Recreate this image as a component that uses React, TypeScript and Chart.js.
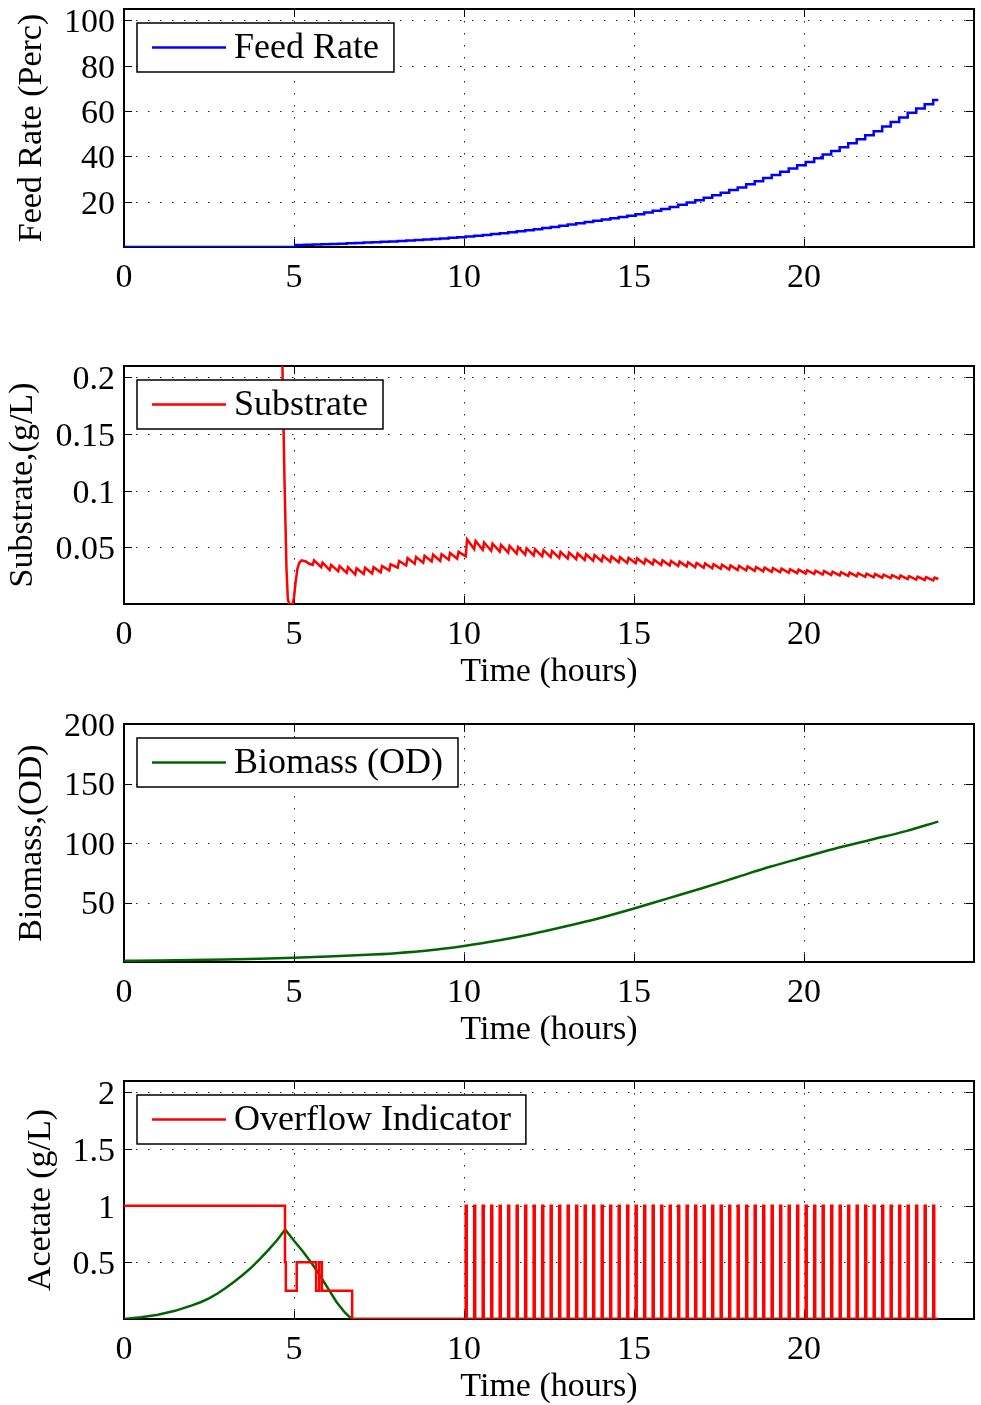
import React, { useEffect, useRef } from 'react';
import { Chart, registerables } from 'chart.js';

Chart.register(...registerables);

// ---------------- data ----------------
const T_END = 23.95;
const X_TICKS = [0, 5, 10, 15, 20];
const X_MAX = 25;

// feeding / dosing instants (hours)
const doseTimes = [
  5.05, 5.30, 5.55, 5.80, 6.05, 6.30, 6.55, 6.80, 7.05, 7.30, 7.55, 7.80, 8.05, 8.30, 8.55, 8.80,
  9.05, 9.30, 9.55, 9.80, 10.05, 10.30, 10.55, 10.80, 11.05, 11.30, 11.55, 11.80, 12.05, 12.30,
  12.55, 12.80, 13.05, 13.30, 13.55, 13.80, 14.05, 14.30, 14.55, 14.80, 15.05, 15.30, 15.55, 15.80,
  16.05, 16.30, 16.55, 16.80, 17.05, 17.30, 17.55, 17.80, 18.05, 18.30, 18.55, 18.80, 19.05, 19.30,
  19.55, 19.80, 20.05, 20.30, 20.55, 20.80, 21.05, 21.30, 21.55, 21.80, 22.05, 22.30, 22.55, 22.80,
  23.05, 23.30, 23.55, 23.80,
];

// Feed rate level after each dose (%)
const feedLevels = [
  0.83, 0.95, 1.08, 1.20, 1.33, 1.48, 1.63, 1.78, 1.94, 2.11, 2.29, 2.46, 2.65, 2.87, 3.10, 3.32,
  3.55, 3.80, 4.05, 4.30, 4.58, 4.95, 5.33, 5.70, 6.09, 6.51, 6.94, 7.36, 7.81, 8.33,
  8.86, 9.38, 9.91, 10.46, 11.01, 11.56, 12.12, 12.69, 13.27, 13.84, 14.46, 15.23, 16.01, 16.78,
  17.61, 18.63, 19.66, 20.68, 21.73, 22.85, 23.98, 25.10, 26.28, 27.65, 29.03, 30.40, 31.79, 33.21,
  34.64, 36.06, 37.53, 39.15, 40.78, 42.40, 44.05, 45.80, 47.55, 49.30, 51.11, 53.13, 55.16, 57.18,
  59.18, 61.05, 62.93, 64.80,
];
const FEED_Y_TICKS = [20, 40, 60, 80, 100];
const FEED_Y_MAX = 105;

// Substrate: start-up transient, then saw-teeth from dose #3 onward
const subStartT = [0, 4.50, 4.60, 4.66, 4.72, 4.78, 4.82, 4.86, 4.96, 5.00, 5.05, 5.10, 5.15, 5.22, 5.35, 5.45];
const subStartV = [2.5, 1.2, 0.5, 0.21, 0.11, 0.03, 0.004, 0, 0, 0.006, 0.02, 0.031, 0.036, 0.0385, 0.0375, 0.0355];
const subTrough = [
  0.0345, 0.0325, 0.0300, 0.0290, 0.0275, 0.0260, 0.0265, 0.0270, 0.0280, 0.0295, 0.0320, 0.0340,
  0.0355, 0.0365, 0.0375, 0.0380, 0.0390, 0.0400, 0.0420, 0.0485, 0.0478, 0.0470, 0.0462, 0.0453,
  0.0444, 0.0436, 0.0428, 0.0421, 0.0414, 0.0407, 0.0401, 0.0395, 0.0389, 0.0383, 0.0378, 0.0373,
  0.0368, 0.0363, 0.0360, 0.0355, 0.0350, 0.0345, 0.0340, 0.0335, 0.0330, 0.0325, 0.0320, 0.0315,
  0.0310, 0.0305, 0.0300, 0.0296, 0.0292, 0.0288, 0.0284, 0.0280, 0.0276, 0.0272, 0.0268, 0.0264,
  0.0260, 0.0256, 0.0252, 0.0248, 0.0244, 0.0240, 0.0236, 0.0232, 0.0228, 0.0224, 0.0220, 0.0216,
  0.0212, 0.0208,
];
const subPeak = [
  0.0385, 0.0365, 0.0345, 0.0335, 0.0325, 0.0315, 0.0320, 0.0325, 0.0335, 0.0350, 0.0380, 0.0405,
  0.0415, 0.0425, 0.0435, 0.0440, 0.0450, 0.0460, 0.0570, 0.0556, 0.0543, 0.0532, 0.0522, 0.0512,
  0.0502, 0.0492, 0.0483, 0.0475, 0.0467, 0.0460, 0.0453, 0.0446, 0.0439, 0.0432, 0.0425, 0.0419,
  0.0413, 0.0407, 0.0402, 0.0396, 0.0391, 0.0385, 0.0380, 0.0374, 0.0369, 0.0363, 0.0358, 0.0352,
  0.0347, 0.0341, 0.0336, 0.0331, 0.0326, 0.0321, 0.0316, 0.0312, 0.0307, 0.0303, 0.0298, 0.0294,
  0.0290, 0.0285, 0.0281, 0.0277, 0.0272, 0.0268, 0.0264, 0.0259, 0.0255, 0.0251, 0.0246, 0.0242,
  0.0237, 0.0233,
];
const SUB_SPIKE_RISE = 0.04;
const SUB_END = 0.0221;
const SUB_Y_TICKS = [0.05, 0.1, 0.15, 0.2];
const SUB_Y_MAX = 0.21;

// Biomass (OD)
const bioT = [0, 1, 2, 3, 4, 5, 6, 7, 8, 9, 10, 11, 12, 13, 14, 15, 16, 17, 18, 19, 20, 21, 22, 23, 23.95];
const bioV = [1.0, 1.3, 1.7, 2.2, 2.8, 3.6, 4.6, 5.8, 7.4, 9.8, 13.5, 18, 23.5, 30, 37, 45, 53.5, 62, 71, 80, 88, 96, 103, 110, 118];
const BIO_Y_TICKS = [50, 100, 150, 200];
const BIO_Y_MAX = 200;

// Acetate (g/L)
const aceT = [0, 0.5, 1, 1.5, 2, 2.25, 2.5, 2.75, 3, 3.25, 3.5, 3.75, 4, 4.25, 4.5, 4.74, 5.0, 5.25, 5.5, 5.75, 6.0, 6.25, 6.5, 6.7, 23.95];
const aceV = [0, 0.016, 0.038, 0.072, 0.12, 0.148, 0.182, 0.225, 0.275, 0.33, 0.39, 0.455, 0.53, 0.61, 0.695, 0.79, 0.69, 0.60, 0.50, 0.39, 0.27, 0.15, 0.055, 0, 0];

// Overflow indicator: initial steps, then pulses at doses from 10.05 h
const ovStepT = [0, 4.735, 4.76, 5.08, 5.65, 5.74, 5.82, 6.71];
const ovStepV = [1, 0.5, 0.25, 0.5, 0.25, 0.5, 0.25, 0];
const ovPulseTimes = doseTimes.slice(20);
const OV_PULSE_WIDTH = 0.03;
const ACE_Y_TICKS = [0.5, 1, 1.5, 2];
const ACE_Y_MAX = 2.1;

// ---------------- series ----------------
const feedData = [{ x: 0, y: 0 }, ...doseTimes.map((t, i) => ({ x: t, y: feedLevels[i] })), { x: T_END, y: feedLevels[feedLevels.length - 1] }];

const subData: { x: number; y: number }[] = subStartT.map((t, i) => ({ x: t, y: subStartV[i] }));
doseTimes.slice(2).forEach((t, i) => {
  subData.push({ x: t, y: subTrough[i] });
  subData.push({ x: t + SUB_SPIKE_RISE, y: subPeak[i] });
});
subData.push({ x: T_END, y: SUB_END });

const bioData = bioT.map((t, i) => ({ x: t, y: bioV[i] }));
const aceData = aceT.map((t, i) => ({ x: t, y: aceV[i] }));

const ovData: { x: number; y: number }[] = ovStepT.map((t, i) => ({ x: t, y: ovStepV[i] }));
ovPulseTimes.forEach((t) => {
  ovData.push({ x: t, y: 1 });
  ovData.push({ x: t + OV_PULSE_WIDTH, y: 0 });
});
ovData.push({ x: T_END, y: 0 });

// ---------------- drawing ----------------
const FONT = '"Liberation Serif", "Times New Roman", serif';
const W = 981;
const PAD_TOP = 20;
const PLOT_H = 238;
const XAXIS_H = 86;
const CANVAS_H = PAD_TOP + PLOT_H + XAXIS_H;
const PLOT_LEFT = 124;
const PLOT_RIGHT = 974;

const matlabAxes = {
  id: 'matlabAxes',
  beforeDatasetsDraw(chart: any) {
    const { ctx, chartArea: a } = chart;
    const xs = chart.scales.x;
    const ys = chart.scales.y;
    ctx.save();
    ctx.strokeStyle = '#222';
    ctx.lineWidth = 1;
    ctx.setLineDash([1.5, 10.5]);
    xs.ticks.forEach((t: any) => {
      const px = Math.round(xs.getPixelForValue(t.value)) + 0.5;
      if (px < a.left + 2 || px > a.right - 2) return;
      ctx.beginPath();
      ctx.moveTo(px, a.top);
      ctx.lineTo(px, a.bottom);
      ctx.stroke();
    });
    ys.ticks.forEach((t: any) => {
      const py = Math.round(ys.getPixelForValue(t.value)) + 0.5;
      if (py < a.top + 2 || py > a.bottom - 2) return;
      ctx.beginPath();
      ctx.moveTo(a.left, py);
      ctx.lineTo(a.right, py);
      ctx.stroke();
    });
    ctx.setLineDash([]);
    ctx.strokeStyle = '#000';
    ctx.lineWidth = 1;
    const TL = 8;
    xs.ticks.forEach((t: any) => {
      const px = Math.round(xs.getPixelForValue(t.value)) + 0.5;
      ctx.beginPath();
      ctx.moveTo(px, a.bottom);
      ctx.lineTo(px, a.bottom - TL);
      ctx.moveTo(px, a.top);
      ctx.lineTo(px, a.top + TL);
      ctx.stroke();
    });
    ys.ticks.forEach((t: any) => {
      const py = Math.round(ys.getPixelForValue(t.value)) + 0.5;
      ctx.beginPath();
      ctx.moveTo(a.left, py);
      ctx.lineTo(a.left + TL, py);
      ctx.moveTo(a.right, py);
      ctx.lineTo(a.right - TL, py);
      ctx.stroke();
    });
    ctx.lineWidth = 2;
    ctx.strokeRect(a.left, a.top, a.right - a.left, a.bottom - a.top);
    ctx.restore();
  },
  afterDatasetsDraw(chart: any, _args: any, opts: any) {
    const idx: number[] = (opts && opts.legend) || [];
    if (!idx.length) return;
    const { ctx, chartArea: a } = chart;
    const items = idx.map((i) => chart.data.datasets[i]);
    ctx.save();
    ctx.font = `36px ${FONT}`;
    const textW = Math.max(...items.map((d: any) => ctx.measureText(d.label).width));
    const bx = a.left + 13;
    const by = a.top + 14;
    const bh = 49;
    const lx0 = bx + 15;
    const lx1 = bx + 89;
    const tx = bx + 97;
    const bw = tx - bx + textW + 15;
    ctx.fillStyle = '#fff';
    ctx.fillRect(bx, by, bw, bh);
    ctx.strokeStyle = '#000';
    ctx.lineWidth = 1.5;
    ctx.strokeRect(bx, by, bw, bh);
    items.forEach((d: any) => {
      const cy = by + bh / 2;
      ctx.strokeStyle = d.borderColor;
      ctx.lineWidth = 2.5;
      ctx.beginPath();
      ctx.moveTo(lx0, cy);
      ctx.lineTo(lx1, cy);
      ctx.stroke();
      ctx.fillStyle = '#000';
      ctx.textAlign = 'left';
      ctx.textBaseline = 'middle';
      ctx.fillText(d.label, tx, cy + 1);
    });
    ctx.restore();
  },
};

type PanelSpec = {
  top: number;
  padLeft: number;
  yMax: number;
  yTicks: number[];
  yTitle: string;
  xTitle: boolean;
  datasets: any[];
  legend: number[];
};

function Panel({ spec }: { spec: PanelSpec }) {
  const ref = useRef<HTMLCanvasElement | null>(null);
  useEffect(() => {
    if (!ref.current) return;
    const tickFont = { family: FONT, size: 34 };
    const chart = new Chart(ref.current, {
      type: 'line',
      data: { datasets: spec.datasets },
      plugins: [matlabAxes as any],
      options: {
        animation: false,
        responsive: false,
        maintainAspectRatio: false,
        devicePixelRatio: 1,
        events: [],
        layout: { padding: { left: spec.padLeft, right: W - PLOT_RIGHT, top: PAD_TOP, bottom: 0 } },
        elements: { point: { radius: 0 }, line: { tension: 0 } },
        plugins: {
          legend: { display: false },
          tooltip: { enabled: false },
          matlabAxes: { legend: spec.legend },
        } as any,
        scales: {
          x: {
            type: 'linear',
            min: 0,
            max: X_MAX,
            afterBuildTicks: (s: any) => {
              s.ticks = X_TICKS.map((v) => ({ value: v }));
            },
            afterFit: (s: any) => {
              s.height = XAXIS_H;
              s.paddingLeft = 0;
              s.paddingRight = 0;
            },
            grid: { display: false, drawTicks: false },
            border: { display: false },
            ticks: {
              autoSkip: false,
              maxRotation: 0,
              padding: 11,
              color: '#000',
              font: tickFont,
              callback: (v: any) => String(v),
            },
            title: {
              display: spec.xTitle,
              text: 'Time (hours)',
              color: '#000',
              font: tickFont,
              padding: { top: 0, bottom: -2 },
            },
          },
          y: {
            type: 'linear',
            min: 0,
            max: spec.yMax,
            afterBuildTicks: (s: any) => {
              s.ticks = spec.yTicks.map((v) => ({ value: v }));
            },
            afterFit: (s: any) => {
              s.width = PLOT_LEFT - spec.padLeft;
              s.paddingTop = 0;
              s.paddingBottom = 0;
            },
            grid: { display: false, drawTicks: false },
            border: { display: false },
            ticks: {
              autoSkip: false,
              padding: 9,
              labelOffset: 3,
              color: '#000',
              font: tickFont,
              callback: (v: any) => String(v),
            },
            title: {
              display: true,
              text: spec.yTitle,
              color: '#000',
              font: tickFont,
              padding: 0,
            },
          },
        },
      } as any,
    });
    return () => chart.destroy();
  }, []);
  return (
    <canvas
      ref={ref}
      width={W}
      height={CANVAS_H}
      style={{ position: 'absolute', left: 0, top: spec.top - PAD_TOP, width: W, height: CANVAS_H }}
    />
  );
}

const lineStyle = { pointRadius: 0, borderWidth: 2.5, fill: false };

const panels: PanelSpec[] = [
  {
    top: 9,
    padLeft: 12,
    yMax: FEED_Y_MAX,
    yTicks: FEED_Y_TICKS,
    yTitle: 'Feed Rate (Perc)',
    xTitle: false,
    legend: [0],
    datasets: [{ ...lineStyle, label: 'Feed Rate', data: feedData, borderColor: '#0000ff', stepped: 'before' }],
  },
  {
    top: 366,
    padLeft: 3,
    yMax: SUB_Y_MAX,
    yTicks: SUB_Y_TICKS,
    yTitle: 'Substrate,(g/L)',
    xTitle: true,
    legend: [0],
    datasets: [{ ...lineStyle, label: 'Substrate', data: subData, borderColor: '#ff0000' }],
  },
  {
    top: 724,
    padLeft: 12,
    yMax: BIO_Y_MAX,
    yTicks: BIO_Y_TICKS,
    yTitle: 'Biomass,(OD)',
    xTitle: true,
    legend: [0],
    datasets: [
      { ...lineStyle, label: 'Biomass (OD)', data: bioData, borderColor: '#006400', cubicInterpolationMode: 'monotone' },
    ],
  },
  {
    top: 1081,
    padLeft: 21,
    yMax: ACE_Y_MAX,
    yTicks: ACE_Y_TICKS,
    yTitle: 'Acetate (g/L)',
    xTitle: true,
    legend: [0],
    datasets: [
      { ...lineStyle, label: 'Overflow Indicator', data: ovData, borderColor: '#ff0000', stepped: 'before' },
      { ...lineStyle, label: 'Acetate', data: aceData, borderColor: '#006400' },
    ],
  },
];

export default function App() {
  return (
    <div style={{ position: 'absolute', left: 0, top: 0, width: W, height: 1405, background: '#fff', overflow: 'hidden' }}>
      {panels.map((p, i) => (
        <Panel key={i} spec={p} />
      ))}
    </div>
  );
}
